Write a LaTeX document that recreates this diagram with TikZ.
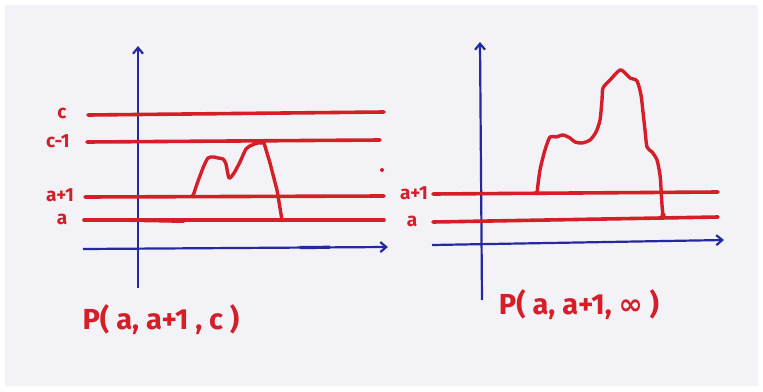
\documentclass[tikz,border=0pt]{standalone}
\usepackage{fontspec}
\setmainfont{Fira Sans}
\newfontfamily\symbfont{DejaVu Sans}
\usetikzlibrary{arrows.meta}
\definecolor{pen}{RGB}{212,30,40}
\definecolor{ink}{RGB}{38,40,160}
\definecolor{paper}{RGB}{242,242,247}
\tikzset{
  axisline/.style={draw=ink, line width=2.2pt, -{Straight Barb[length=6pt,width=10pt]}},
  level/.style={draw=pen, line width=3.6pt, line cap=round},
  walk/.style={draw=pen, line width=3.4pt, line cap=round, line join=round},
  lvl/.style={text=pen, font=\fontsize{19}{19}\selectfont\bfseries, inner sep=0pt},
  title/.style={text=pen, font=\fontsize{29}{29}\selectfont\bfseries, inner sep=0pt},
}
\begin{document}
\begin{tikzpicture}[x=1pt,y=-1pt]
\useasboundingbox (0,0) rectangle (763,391);
\fill[paper] (5,5) rectangle (758,386);

% ---------- left panel ----------
\coordinate (LyB) at (138,288);
\coordinate (LyT) at (138,46);
\coordinate (LxL) at (83,249);
\coordinate (LxR) at (388,247);
\draw[axisline] (LyB) -- (LyT);
\draw[axisline] (LxL) -- (LxR);
\draw[ink, line width=3.2pt] (300,247.5) -- (330,247.3);

\coordinate (Lc1) at (88,115);   \coordinate (Lc2) at (384,112);
\coordinate (Lm1) at (87,142);   \coordinate (Lm2) at (380,140);
\coordinate (Lp1) at (85,197);   \coordinate (Lp2) at (384,196);
\coordinate (La1) at (84,220);   \coordinate (La2) at (384,220);
\draw[level] (Lc1) -- (Lc2);
\draw[level] (Lm1) -- (Lm2);
\draw[level] (Lp1) -- (Lp2);
\draw[level] (La1) -- (La2);
\draw[level, line width=4pt] (130,220) -- (165,220.6) -- (183,221);

\node[lvl] (lc) at (62,113) {c};
\node[lvl] (lm) at (58,141) {c-1};
\node[lvl] (lp) at (60,195) {a+1};
\node[lvl] (la) at (62,219) {a};

\draw[walk] plot[smooth, tension=0.45] coordinates {
  (193,196) (197,184) (203,168) (208,158) (214,157) (218,158) (223,159)
  (226,164) (229,178) (234,173) (240,162) (246,149) (252,145) (258,143) (264,143)};
\draw[walk] (264,143) -- (270,163) -- (277,190) -- (282,220);
\fill[pen] (193,196) circle (2.3pt);
\fill[pen] (282,220) circle (2.3pt);
\fill[pen] (382,170) circle (2pt);

\node[title] (lt) at (161,320) {P( a, a+1 , c )};

% ---------- right panel ----------
\coordinate (RyB) at (482,300);
\coordinate (RyT) at (480,42);
\coordinate (RxL) at (432,245);
\coordinate (RxR) at (724,240);
\draw[axisline] (RyB) -- (RyT);
\draw[axisline] (RxL) -- (RxR);

\coordinate (Rp1) at (433,194);  \coordinate (Rp2) at (718,192);
\coordinate (Ra1) at (433,222);  \coordinate (Ra2) at (718,217);
\draw[level] (Rp1) -- (Rp2);
\draw[level] (Ra1) -- (Ra2);

\node[lvl] (rp) at (414,193) {a+1};
\node[lvl] (ra) at (412,221) {a};

\draw[walk] plot[smooth, tension=0.45] coordinates {
  (537,193) (540,170) (545,150) (550,137) (556,137) (563,135) (570,138)
  (575,142) (582,143) (590,140) (596,132) (600,120) (602,100) (603,88)
  (610,80) (620,70) (626,74) (630,78) (637,81) (641,95) (643,112) (645,130)
  (647,147) (652,152) (657,160) (660,175) (661,188) (662,205) (663,215)};
\fill[pen] (537,193) circle (2.3pt);
\fill[pen] (663,215) circle (2.6pt);

\node[title] (rt) at (579,305) {P( a, a+1, {\symbfont\bfseries ∞} )};
\end{tikzpicture}
\end{document}
